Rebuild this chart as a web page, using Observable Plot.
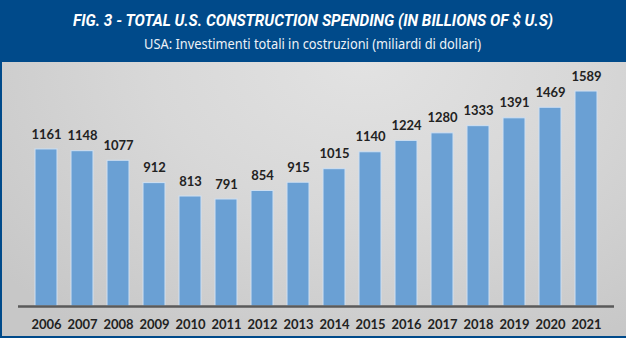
<!DOCTYPE html>
<html>
<head>
<meta charset="utf-8">
<script src="https://cdn.jsdelivr.net/npm/d3@7"></script>
<script src="https://cdn.jsdelivr.net/npm/@observablehq/plot@0.6"></script>
<style>
  html, body { margin: 0; padding: 0; background: #fff; }
  #wrap { width: 626px; height: 338px; position: relative; overflow: hidden; }
  #header { height: 62px; background: #004a8a; color: #fff; position: relative; }
  .hline { position: absolute; left: 0; width: 626px; text-align: center; white-space: nowrap; }
  .hline span { display: inline-block; transform-origin: center; }
  #title { top: 11px; font-family: Roboto, "Liberation Sans", sans-serif; font-weight: 700; font-style: italic; font-size: 16px; line-height: 20px; }
  #subtitle { top: 33px; font-family: "Noto Sans", "Open Sans", sans-serif; font-weight: 400; font-size: 14.5px; line-height: 20px; color: #eef2f7; }
  #chart { position: relative; height: 276px; background: radial-gradient(ellipse 75% 120% at 58% 0%, #e2e2e2 0%, #d8d8d8 45%, #c7c7c7 100%); }
  #chart svg { display: block; }
  #bl { position: absolute; left: 0; top: 62px; width: 2px; height: 276px; background: #004a8a; }
  #bb { position: absolute; left: 0; top: 336px; width: 626px; height: 2px; background: #004a8a; }
</style>
</head>
<body>
<div id="wrap">
  <div id="header">
    <div class="hline" id="title"><span>FIG. 3 - TOTAL U.S. CONSTRUCTION SPENDING (IN BILLIONS OF $ U.S)</span></div>
    <div class="hline" id="subtitle"><span>USA: Investimenti totali in costruzioni (miliardi di dollari)</span></div>
  </div>
  <div id="chart"></div>
  <div id="bl"></div>
  <div id="bb"></div>
</div>
<script>
const years = ["2006","2007","2008","2009","2010","2011","2012","2013","2014","2015","2016","2017","2018","2019","2020","2021"];
const spending = [1161, 1148, 1077, 912, 813, 791, 854, 915, 1015, 1140, 1224, 1280, 1333, 1391, 1469, 1589];

const data = years.map((y, i) => ({year: y, value: spending[i]}));

const chart = Plot.plot({
  width: 626,
  height: 276,
  marginLeft: 18,
  marginRight: 12,
  marginTop: 14,
  marginBottom: 32,
  style: { background: "transparent", fontFamily: "Lato, 'Open Sans', sans-serif" },
  x: { domain: years, padding: 0.4, label: null },
  y: { domain: [0, 1700], axis: null },
  marks: [
    Plot.barY(data, { x: "year", y: "value", fill: "#6aa0d4", stroke: "#cfe0f2", strokeWidth: 1 }),
    Plot.ruleY([0], { stroke: "#5a5a5a", strokeWidth: 2.5 }),
    Plot.text(data, { x: "year", y: "value", text: d => String(d.value), dy: -15, fill: "#222222", fontWeight: "bold", fontSize: 13 }),
    Plot.axisX({ tickSize: 0, tickPadding: 13, fontWeight: "bold", fontSize: 13, color: "#222222", label: null })
  ]
});
document.getElementById("chart").appendChild(chart);

// fit header text widths
function fit(id, target) {
  const s = document.querySelector("#" + id + " span");
  const w = s.getBoundingClientRect().width;
  if (w > 0) s.style.transform = `scaleX(${target / w})`;
}
fit("title", 480);
fit("subtitle", 337);
</script>
</body>
</html>
